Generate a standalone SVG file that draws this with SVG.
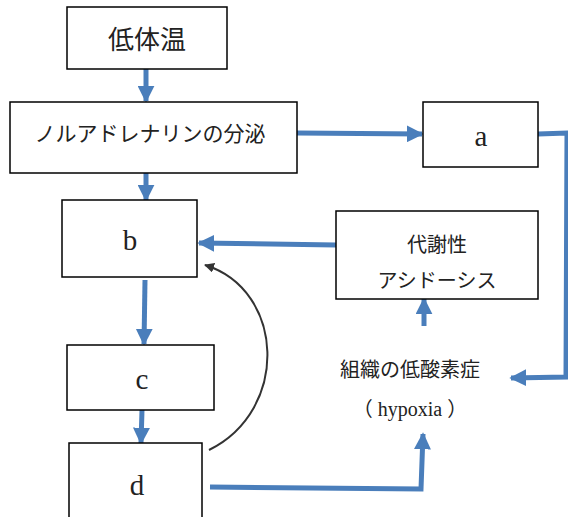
<svg xmlns="http://www.w3.org/2000/svg" width="568" height="517" viewBox="0 0 568 517">
<style>
.box{fill:#fff;stroke:#000;stroke-width:1.5}
.t{font-family:"Liberation Serif","Noto Sans CJK JP",serif;fill:#222;text-anchor:middle}
.L{font-size:29px}
.ln{fill:none;stroke:#4a7ebb;stroke-width:5}
.bk{fill:none;stroke:#333;stroke-width:2}
</style>
<defs>
<marker id="ah" viewBox="0 0 10 10" refX="9" refY="5" markerWidth="3.4" markerHeight="3.4" orient="auto" markerUnits="strokeWidth">
<path d="M0,0 L10,5 L0,10 Z" fill="#4a7ebb"/>
</marker>
<marker id="ak" viewBox="0 0 10 10" refX="9" refY="5" markerWidth="5" markerHeight="5" orient="auto" markerUnits="strokeWidth">
<path d="M0,0 L10,5 L0,10 Z" fill="#333"/>
</marker>
</defs>
<g id="connectors">
<line class="ln" x1="146" y1="69" x2="146" y2="101" marker-end="url(#ah)"/>
<line class="ln" x1="146" y1="173" x2="146" y2="200" marker-end="url(#ah)"/>
<line class="ln" x1="297" y1="133" x2="422" y2="134" marker-end="url(#ah)"/>
<polyline class="ln" points="538,134 567,133 566,377 511,378" marker-end="url(#ah)"/>
<line class="ln" x1="336" y1="245" x2="199" y2="243" marker-end="url(#ah)"/>
<line class="ln" x1="424" y1="326" x2="424" y2="299" marker-end="url(#ah)"/>
<line class="ln" x1="145" y1="280" x2="144" y2="344" marker-end="url(#ah)"/>
<line class="ln" x1="142" y1="410" x2="141" y2="443" marker-end="url(#ah)"/>
<polyline class="ln" points="210,487 421,489 423,434" marker-end="url(#ah)"/>
<path class="bk" d="M209,450 C290,410 285,290 205,265" marker-end="url(#ak)"/>
</g>
<g id="n-teitaion"><rect class="box" x="67" y="7" width="160" height="62"/><text class="t" x="147" y="49" font-size="26">低体温</text></g>
<g id="n-noradrenaline"><rect class="box" x="10" y="102" width="287" height="71"/><text class="t" x="150" y="141" font-size="21">ノルアドレナリンの分泌</text></g>
<g id="n-a"><rect class="box" x="423" y="102" width="115" height="65"/><text class="t L" x="481" y="146">a</text></g>
<g id="n-b"><rect class="box" x="62" y="200" width="135" height="77"/><text class="t L" x="130" y="250">b</text></g>
<g id="n-acidosis"><rect class="box" x="336" y="211" width="202" height="88"/><text class="t" x="437" y="252" font-size="20">代謝性</text><text class="t" x="437" y="288" font-size="20">アシドーシス</text></g>
<g id="n-hypoxia"><text class="t" x="410" y="377" font-size="20">組織の低酸素症</text><text class="t" x="410" y="416" font-size="20">（ hypoxia ）</text></g>
<g id="n-c"><rect class="box" x="67" y="345" width="147" height="65"/><text class="t L" x="142" y="389">c</text></g>
<g id="n-d"><rect class="box" x="69" y="443" width="133" height="80"/><text class="t L" x="137" y="495">d</text></g>
</svg>
